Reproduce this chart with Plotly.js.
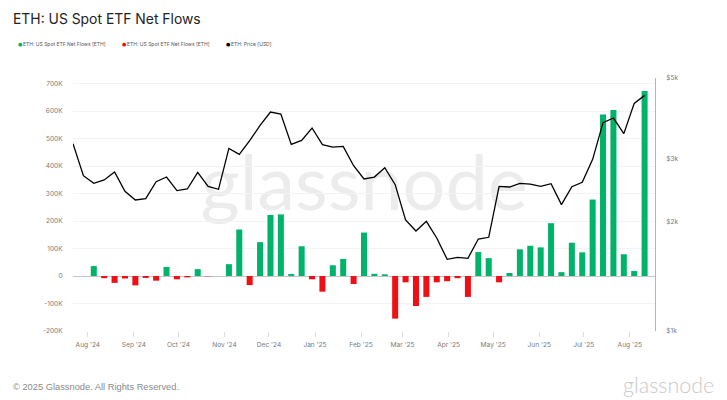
<!DOCTYPE html>
<html>
<head>
<meta charset="utf-8">
<script src="https://cdn.plot.ly/plotly-3.0.1.min.js"></script>
<style>html,body{margin:0;padding:0;background:#fff}#c{width:727px;height:400px}</style>
</head>
<body>
<div id="c"></div>
<script>
const weeks = ["2024-07-22","2024-07-29","2024-08-05","2024-08-12","2024-08-19","2024-08-26","2024-09-02","2024-09-09","2024-09-16","2024-09-23","2024-09-30","2024-10-07","2024-10-14","2024-10-21","2024-10-28","2024-11-04","2024-11-11","2024-11-18","2024-11-25","2024-12-02","2024-12-09","2024-12-16","2024-12-23","2024-12-30","2025-01-06","2025-01-13","2025-01-20","2025-01-27","2025-02-03","2025-02-10","2025-02-17","2025-02-24","2025-03-03","2025-03-10","2025-03-17","2025-03-24","2025-03-31","2025-04-07","2025-04-14","2025-04-21","2025-04-28","2025-05-05","2025-05-12","2025-05-19","2025-05-26","2025-06-02","2025-06-09","2025-06-16","2025-06-23","2025-06-30","2025-07-07","2025-07-14","2025-07-21","2025-07-28","2025-08-04","2025-08-11"];
const inflows = [null,null,36000,null,null,null,null,null,null,33000,null,null,25000,null,null,43000,169000,null,123000,222000,224000,7000,108000,null,null,39000,62000,null,158000,8000,6000,null,null,null,null,null,null,null,null,87000,65000,null,11000,97000,110000,104000,192000,14000,121000,86000,278000,587000,604000,79000,18000,673000];
const outflows = [null,null,null,-8000,-25000,-9000,-34000,-7000,-17000,null,-12000,-5000,null,-1000,null,null,null,-33000,null,null,null,null,null,-12000,-57000,null,null,-29000,null,null,null,-155000,-23000,-109000,-76000,-23000,-19000,-8000,-76000,null,null,-23000,null,null,null,null,null,null,null,null,null,null,null,null,null,null];
const price = [3292,2686,2558,2614,2749,2431,2301,2320,2585,2663,2442,2468,2744,2510,2463,3195,3076,3356,3699,4027,3975,3278,3363,3637,3271,3223,3236,2862,2630,2663,2826,2537,2026,1889,2009,1807,1578,1598,1588,1795,1815,2510,2499,2558,2547,2510,2553,2234,2505,2575,2980,3763,3876,3509,4255,4477];
const flowTicks = [-200000,-100000,0,100000,200000,300000,400000,500000,600000,700000];
const flowLabels = ["-200K","-100K","0","100K","200K","300K","400K","500K","600K","700K"];
const priceTicks = [1000,2000,3000,5000];
const priceLabels = ["$1k","$2k","$3k","$5k"];
const titleText = "ETH: US Spot ETF Net Flows";
const legendLabels = ["ETH: US Spot ETF Net Flows [ETH]","ETH: US Spot ETF Net Flows [ETH]","ETH: Price [USD]"];

const GREEN="#00b36b", RED="#f00f14", BLACK="#000000";
const tickFont={family:"Inter, 'Open Sans', sans-serif",size:6.6,color:"#7a7a7a"};
const legX=[17,121,225];
const legCol=[GREEN,RED,BLACK];
const ann=[];
legendLabels.forEach((t,i)=>{
  ann.push({xref:"paper",yref:"paper",x:(legX[i]-73)/582,y:(400-69-44)/253,text:"●",showarrow:false,xanchor:"left",yanchor:"middle",font:{family:"DejaVu Sans",size:5,color:legCol[i]},borderpad:0});
  ann.push({xref:"paper",yref:"paper",x:(legX[i]+5-73)/582,y:(400-69-44)/253,text:t,showarrow:false,xanchor:"left",yanchor:"middle",font:{family:"Inter, sans-serif",size:5,color:"#555"},borderpad:0});
});
ann.push({xref:"paper",yref:"paper",x:(12-73)/582,y:(400-69-19)/253,text:titleText,showarrow:false,xanchor:"left",yanchor:"middle",font:{family:"Inter, sans-serif",size:13.9,color:"#222"},borderpad:0});
ann.push({xref:"paper",yref:"paper",x:(12-73)/582,y:(400-69-387)/253,text:"© 2025 Glassnode. All Rights Reserved.",showarrow:false,xanchor:"left",yanchor:"middle",font:{family:"Liberation Sans",size:9.3,color:"#8a8a8a"},borderpad:0});
ann.push({xref:"paper",yref:"paper",x:(715-73)/582,y:(400-69-385)/253,text:"glassnode",showarrow:false,xanchor:"right",yanchor:"middle",font:{family:"Lato, sans-serif",size:21.5,color:"#c9c9c9",weight:300},borderpad:0});

const traces=[
 {type:"bar",x:weeks,y:inflows,name:legendLabels[0],marker:{color:GREEN},yaxis:"y",hoverinfo:"skip"},
 {type:"bar",x:weeks,y:outflows,name:legendLabels[1],marker:{color:RED},yaxis:"y",hoverinfo:"skip"},
 {type:"scatter",mode:"lines",x:weeks,y:price,name:legendLabels[2],line:{color:BLACK,width:1.3,shape:"linear"},yaxis:"y2",hoverinfo:"skip"}
];
const layout={
 width:727,height:400,margin:{l:73,r:72,t:78,b:69,pad:0},
 paper_bgcolor:"#fff",plot_bgcolor:"rgba(0,0,0,0)",showlegend:false,
 barmode:"overlay",bargap:0.42,
 xaxis:{type:"date",range:["2024-07-22","2025-08-18"],dtick:"M1",tick0:"2024-08-01",tickformat:"%b '%y",ticks:"outside",ticklen:5,tickwidth:1,tickcolor:"#dcdcdc",tickfont:tickFont,ticklabelstandoff:2,showgrid:false,zeroline:false,showline:false},
 yaxis:{range:[-200000,720000],tickvals:flowTicks,ticktext:flowLabels,tickfont:tickFont,ticks:"outside",ticklen:8,tickcolor:"rgba(0,0,0,0)",gridcolor:"#f3f3f3",gridwidth:1,zeroline:true,zerolinecolor:"#c4c4c4",zerolinewidth:1,showline:false},
 yaxis2:{type:"log",overlaying:"y",side:"right",range:[3,Math.log10(5000)],tickvals:priceTicks,ticktext:priceLabels,tickfont:tickFont,ticks:"outside",ticklen:9,tickcolor:"rgba(0,0,0,0)",showgrid:false,zeroline:false,showline:true,linecolor:"#b5b5b5",linewidth:1},
 annotations:ann,
 shapes:[{type:"rect",xref:"paper",yref:"paper",x0:(200-73)/582,x1:(528-73)/582,y0:(400-69-217)/253,y1:(400-69-142)/253,layer:"below",line:{width:0},fillcolor:"rgba(0,0,0,0)",
   label:{text:"glassnode",textposition:"middle center",font:{family:"Lato, sans-serif",size:75.5,color:"#ececec",weight:400}}}]
};
Plotly.newPlot("c",traces,layout,{displayModeBar:false,staticPlot:true});
</script>
</body>
</html>
